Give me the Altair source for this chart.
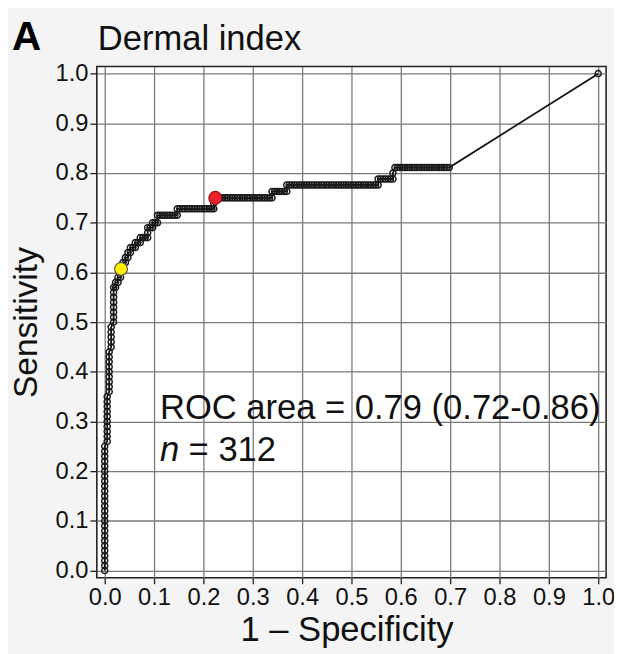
import altair as alt
import pandas as pd

# ---- data ----
title_letter = "A"
title_text = "Dermal index"
x_title = "1 – Specificity"
y_title = "Sensitivity"
tick_values = [0.0, 0.1, 0.2, 0.3, 0.4, 0.5, 0.6, 0.7, 0.8, 0.9, 1.0]

fpr = [
    # vertical run at 0
    0, 0, 0, 0, 0, 0, 0, 0, 0, 0, 0, 0, 0, 0, 0, 0, 0, 0, 0, 0, 0, 0, 0, 0, 0, 0,
    .005, .005, .005, .005, .005, .005, .005, .005, .005, .005,
    .009, .009, .009, .009, .009, .009, .009, .009, .009,
    .013, .013, .013, .013, .013,
    .018, .018, .018, .018, .018, .018, .018, .018,
    # staircase up to 0.728
    .022, .022, .027, .027, .032, .032, .033, .037, .037, .042,
    .042, .047, .047, .052, .052, .057, .062, .062, .067, .072,
    .072, .077, .082, .087, .087, .087, .092, .097, .097, .102,
    .107, .107, .112, .117, .122, .127, .132, .137, .142, .147,
    .147,
    # flat at 0.728
    .152, .157, .162, .167, .172, .177, .182, .187, .192, .197, .202, .207, .212, .217, .221, .221,
    # flat at 0.75
    .224, .229, .234, .239, .244, .249, .254, .259, .264, .269, .274, .279,
    .284, .289, .294, .299, .304, .309, .314, .319, .324, .329, .334, .339,
    # flat at 0.763
    .339, .344, .349, .354, .359, .364, .369,
    # flat at 0.776
    .369, .374, .379, .384, .389, .394, .399, .404, .409, .414, .419, .424, .429,
    .434, .439, .444, .449, .454, .459, .464, .469, .474, .479, .484, .489, .494,
    .499, .504, .509, .514, .519, .524, .529, .534, .539, .544, .549, .554,
    # flat at 0.788
    .554, .559, .564, .569, .574, .579, .584,
    # flat at 0.811
    .584,
    .588, .593, .598, .603, .608, .613, .618, .623, .628, .633, .638, .643,
    .648, .653, .658, .663, .668, .673, .678, .683, .688, .693, .698,
    # end point
    1.0,
]

tpr = [
    0.00, 0.01, 0.02, 0.03, 0.04, 0.05, 0.06, 0.07, 0.08, 0.09, 0.10, 0.11, 0.12,
    0.13, 0.14, 0.15, 0.16, 0.17, 0.18, 0.19, 0.20, 0.21, 0.22, 0.23, 0.24, 0.25,
    0.26, 0.27, 0.28, 0.29, 0.30, 0.31, 0.32, 0.33, 0.34, 0.35,
    0.36, 0.37, 0.38, 0.39, 0.40, 0.41, 0.42, 0.43, 0.44,
    0.45, 0.46, 0.47, 0.48, 0.49,
    0.50, 0.51, 0.52, 0.53, 0.54, 0.55, 0.56, 0.57,
    .57, .58, .58, .59, .59, .60, .61, .61, .62, .62,
    .63, .63, .64, .64, .65, .65, .65, .66, .66, .66,
    .67, .67, .67, .67, .68, .69, .69, .69, .70, .70,
    .70, .715, .715, .715, .715, .715, .715, .715, .715, .715,
    .728,
    .728, .728, .728, .728, .728, .728, .728, .728, .728, .728, .728, .728, .728, .728, .728, .739,
    .75, .75, .75, .75, .75, .75, .75, .75, .75, .75, .75, .75,
    .75, .75, .75, .75, .75, .75, .75, .75, .75, .75, .75, .75,
    .763, .763, .763, .763, .763, .763, .763,
    .776, .776, .776, .776, .776, .776, .776, .776, .776, .776, .776, .776, .776,
    .776, .776, .776, .776, .776, .776, .776, .776, .776, .776, .776, .776, .776,
    .776, .776, .776, .776, .776, .776, .776, .776, .776, .776, .776, .776,
    .788, .788, .788, .788, .788, .788, .788,
    .80,
    .811, .811, .811, .811, .811, .811, .811, .811, .811, .811, .811, .811,
    .811, .811, .811, .811, .811, .811, .811, .811, .811, .811, .811,
    1.0,
]

cut_fpr = [0.033, 0.224]
cut_tpr = [0.607, 0.75]
cut_fill = ["#FFEE00", "#E8232B"]
cut_stroke = ["#555555", "#A01010"]

annot_text = ["ROC area = 0.79 (0.72-0.86)", "= 312"]
annot_x = [0.112, 0.170]
annot_y = [0.305, 0.220]
italic_text = ["n"]
italic_x = [0.112]
italic_y = [0.220]

FONT = "Liberation Sans"

curve = pd.DataFrame({"fpr": fpr, "tpr": tpr})
cuts = pd.DataFrame({"fpr": cut_fpr, "tpr": cut_tpr, "fill": cut_fill, "stroke": cut_stroke})
annot = pd.DataFrame({"x": annot_x, "y": annot_y, "t": annot_text})
annot_i = pd.DataFrame({"x": italic_x, "y": italic_y, "t": italic_text})

xscale = alt.Scale(domain=[-0.016, 1.016], nice=False, zero=False)
yscale = alt.Scale(domain=[-0.0144, 1.0144], nice=False, zero=False)

xaxis = alt.Axis(
    values=tick_values, format=".1f", title=x_title,
    labelFontSize=24, labelFont=FONT, labelColor="#111", labelPadding=2,
    labelFlush=False, labelOverlap=False,
    tickSize=6, tickColor="#222", tickWidth=1.3,
    grid=True, gridColor="#7a7a7a", gridWidth=1.3, domain=False,
    titleFont=FONT, titleFontSize=35, titleFontWeight="normal", titleColor="#111",
    titleX=253, titleY=64, titleBaseline="alphabetic", titleAlign="center",
)
yaxis = alt.Axis(
    values=tick_values, format=".1f", title=y_title,
    labelFontSize=24, labelFont=FONT, labelColor="#111", labelPadding=2,
    labelFlush=False, labelOverlap=False,
    tickSize=7, tickColor="#222", tickWidth=1.3,
    grid=True, gridColor="#7a7a7a", gridWidth=1.3, domain=False,
    titleFont=FONT, titleFontSize=34, titleFontWeight="normal", titleColor="#111",
    titleX=-61, titleY=259, titleAngle=270, titleBaseline="alphabetic", titleAlign="center",
)

X = alt.X("fpr:Q", scale=xscale, axis=xaxis)
Y = alt.Y("tpr:Q", scale=yscale, axis=yaxis)

line = alt.Chart(curve).mark_line(color="#111111", strokeWidth=1.8).encode(x=X, y=Y)
pts = alt.Chart(curve).mark_point(
    shape="circle", filled=False, color="#1a1a1a", size=38, strokeWidth=1.5, opacity=1
).encode(x=X, y=Y)
cut_pts = alt.Chart(cuts).mark_point(
    shape="circle", filled=True, size=170, strokeWidth=1.2, opacity=1
).encode(
    x=X, y=Y,
    fill=alt.Fill("fill:N", scale=None),
    stroke=alt.Stroke("stroke:N", scale=None),
)

texts = alt.Chart(annot).mark_text(
    align="left", baseline="alphabetic", fontSize=35, font=FONT, color="#111"
).encode(x=alt.X("x:Q", scale=xscale), y=alt.Y("y:Q", scale=yscale), text="t:N")
texts_i = alt.Chart(annot_i).mark_text(
    align="left", baseline="alphabetic", fontSize=35, font=FONT, fontStyle="italic", color="#111"
).encode(x=alt.X("x:Q", scale=xscale), y=alt.Y("y:Q", scale=yscale), text="t:N")

head_letter = alt.Chart(pd.DataFrame({"t": [title_letter]})).mark_text(
    align="left", baseline="alphabetic", fontSize=41, fontWeight="bold", font=FONT, color="#000"
).encode(x=alt.value(-86), y=alt.value(-17), text="t:N")
head_text = alt.Chart(pd.DataFrame({"t": [title_text]})).mark_text(
    align="left", baseline="alphabetic", fontSize=35, font=FONT, color="#111"
).encode(x=alt.value(1), y=alt.value(-17), text="t:N")

chart = alt.layer(line, pts, cut_pts, texts, texts_i, head_letter, head_text).properties(
    width=516, height=518,
    autosize=alt.AutoSizeParams(type="none"),
    padding={"left": 90, "top": 55, "right": 8, "bottom": 73},
    background="#f4f4f4",
).configure_view(stroke="#222222", strokeWidth=1.6, fill="white")

chart.save("out.html", embed_options={"renderer": "svg", "actions": False})
